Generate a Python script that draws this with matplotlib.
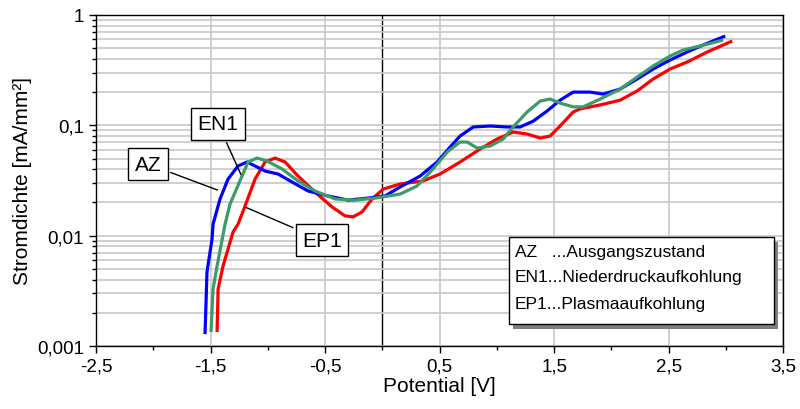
import numpy as np
import matplotlib
matplotlib.use("Agg")
from matplotlib import pyplot as plt
from matplotlib.patches import Rectangle
from matplotlib.ticker import FixedLocator, FuncFormatter, LogLocator, NullFormatter

plt.rcParams["font.family"] = ["Liberation Sans", "DejaVu Sans"]

# Potential [V] and current density [mA/mm²]
az_v = [-1.548, -1.531, -1.487, -1.478, -1.417, -1.347, -1.260, -1.181, -1.111, -1.024,
        -0.910, -0.788, -0.648, -0.474, -0.299, -0.124, 0.024, 0.155, 0.330, 0.478,
        0.592, 0.679, 0.793, 0.941, 1.090, 1.203, 1.317, 1.439, 1.552, 1.666,
        1.814, 1.928, 2.076, 2.225, 2.365, 2.513, 2.662, 2.802, 2.994]
az_j = [0.00128, 0.00468, 0.0093, 0.0127, 0.0215, 0.0326, 0.0428, 0.0465, 0.0428, 0.0385,
        0.0362, 0.0306, 0.0254, 0.0229, 0.0210, 0.0219, 0.0229, 0.0276, 0.0347, 0.0465,
        0.0636, 0.080, 0.0966, 0.0986, 0.0966, 0.0966, 0.109, 0.135, 0.169, 0.200,
        0.200, 0.192, 0.213, 0.263, 0.324, 0.391, 0.462, 0.535, 0.645]

en1_v = [-1.496, -1.478, -1.443, -1.373, -1.330, -1.225, -1.172, -1.094, -1.007, -0.876,
         -0.736, -0.587, -0.413, -0.238, -0.063, 0.155, 0.303, 0.443, 0.566, 0.679,
         0.740, 0.828, 0.941, 1.055, 1.142, 1.264, 1.378, 1.465, 1.552, 1.666,
         1.753, 1.902, 2.076, 2.225, 2.365, 2.513, 2.627, 2.775, 2.976]
en1_j = [0.00134, 0.00328, 0.0053, 0.0127, 0.0193, 0.0347, 0.0465, 0.0505, 0.0475, 0.0402,
         0.0313, 0.0254, 0.0215, 0.0210, 0.0219, 0.0238, 0.0282, 0.0402, 0.0573, 0.0706,
         0.0706, 0.0622, 0.0649, 0.0751, 0.0966, 0.132, 0.166, 0.173, 0.159, 0.147,
         0.147, 0.173, 0.213, 0.274, 0.345, 0.425, 0.482, 0.524, 0.593]

ep1_v = [-1.443, -1.434, -1.391, -1.303, -1.260, -1.199, -1.111, -1.024, -0.937, -0.849,
         -0.736, -0.587, -0.439, -0.325, -0.255, -0.177, -0.090, 0.007, 0.155, 0.356,
         0.504, 0.679, 0.854, 1.002, 1.142, 1.264, 1.378, 1.465, 1.552, 1.666,
         1.727, 1.902, 2.076, 2.225, 2.365, 2.513, 2.662, 2.837, 3.055]
ep1_j = [0.00134, 0.00328, 0.0053, 0.0108, 0.0127, 0.0185, 0.0326, 0.0465, 0.0505, 0.0465,
         0.0347, 0.0248, 0.0182, 0.0151, 0.0148, 0.0164, 0.0215, 0.0264, 0.0294, 0.0313,
         0.0362, 0.0465, 0.061, 0.0751, 0.087, 0.0834, 0.0767, 0.080, 0.0986, 0.132,
         0.141, 0.153, 0.169, 0.205, 0.263, 0.324, 0.375, 0.462, 0.581]

legend_lines = ["AZ   ...Ausgangszustand",
                "EN1...Niederdruckaufkohlung",
                "EP1...Plasmaaufkohlung"]

fig = plt.figure(figsize=(8, 4.1), dpi=100)
ax = fig.add_axes([0.12, 0.1537, 0.859, 0.8073])

# Curves
style = dict(lw=2.3, solid_joinstyle="round", solid_capstyle="butt")
ax.plot(az_v, az_j, color="#0000ff", zorder=3, **style)
ax.plot(en1_v, en1_j, color="#3c9a6b", zorder=4, **style)
ax.plot(ep1_v, ep1_j, color="#ff0000", zorder=2, **style)

ax.set_yscale("log")
ax.set_xlim(-2.5, 3.5)
ax.set_ylim(0.001, 1)

# Ticks and grid
ax.xaxis.set_major_locator(FixedLocator(np.arange(-2.5, 3.6, 1.0)))
ax.xaxis.set_minor_locator(FixedLocator(np.arange(-2.0, 3.1, 1.0)))
ax.xaxis.set_major_formatter(FuncFormatter(lambda v, p: f"{v:.1f}".replace(".", ",")))
ax.yaxis.set_major_locator(FixedLocator([0.001, 0.01, 0.1, 1]))
ax.yaxis.set_minor_locator(LogLocator(base=10, subs=np.arange(2, 10)))
ax.yaxis.set_minor_formatter(NullFormatter())
ax.yaxis.set_major_formatter(FuncFormatter(
    lambda v, p: {0.001: "0,001", 0.01: "0,01", 0.1: "0,1", 1: "1"}.get(round(v, 3), "")))

ax.tick_params(which="both", direction="out", top=False, right=False, labelsize=13.5)
ax.tick_params(which="major", length=5, width=1)
ax.tick_params(which="minor", length=3, width=1)
ax.grid(True, axis="x", which="major", color="#c8c8c8", lw=1.2, zorder=0)
ax.grid(True, axis="y", which="both", color="#c8c8c8", lw=1.2, zorder=0)
ax.axvline(0, color="black", lw=1, zorder=1)
for s in ax.spines.values():
    s.set_color("black")
    s.set_linewidth(1)

ax.set_xlabel("Potential [V]", fontsize=15, labelpad=1)
ax.set_ylabel("Stromdichte [mA/mm²]", fontsize=15, labelpad=4)

# Callout labels
box = dict(boxstyle="square,pad=0.3", fc="white", ec="black", lw=1)
line = dict(arrowstyle="-", color="black", lw=1)
ax.annotate("EN1", xy=(-1.225, 0.034), xytext=(-1.434, 0.103), fontsize=15,
            ha="center", va="center", bbox=box, arrowprops=line, zorder=6)
ax.annotate("AZ", xy=(-1.417, 0.0254), xytext=(-2.046, 0.0446), fontsize=15,
            ha="center", va="center", bbox=box, arrowprops=line, zorder=6)
ax.annotate("EP1", xy=(-1.216, 0.0185), xytext=(-0.526, 0.0091), fontsize=15,
            ha="center", va="center", bbox=box, arrowprops=line, zorder=6)

# Legend box with drop shadow
bx0, bx1, by0, by1 = 0.601, 0.987, 0.066, 0.329
ax.add_patch(Rectangle((bx0 + 0.006, by0 - 0.014), bx1 - bx0, by1 - by0,
                       transform=ax.transAxes, fc="#7f7f7f", ec="none", zorder=7))
ax.add_patch(Rectangle((bx0, by0), bx1 - bx0, by1 - by0,
                       transform=ax.transAxes, fc="white", ec="black", lw=1, zorder=8))
for txt, yy in zip(legend_lines, [0.284, 0.211, 0.127]):
    ax.text(0.609, yy, txt, transform=ax.transAxes, fontsize=12.5,
            ha="left", va="center", zorder=9)

fig.savefig("out.png", dpi=100)
